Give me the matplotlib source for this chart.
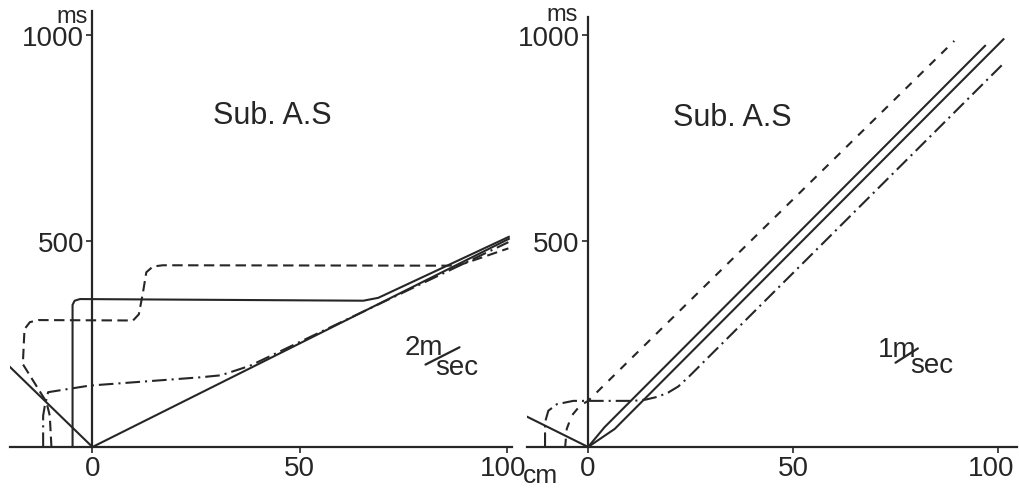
import matplotlib
matplotlib.use("Agg")
import matplotlib.pyplot as plt
from matplotlib.transforms import ScaledTranslation

plt.rcParams['font.family'] = ['Liberation Sans', 'DejaVu Sans']

INK = '#262626'

# ---- left panel (2 m/sec) ----
L_back_x = [-20.4, 0]
L_back_y = [199, 0]
L_main_x = [0, 100.5]
L_main_y = [0, 505]
L_plat_x = [-4.8, -4.8, -4.3, -3.0, 65.4, 69.0, 100.5]
L_plat_y = [0, 345, 355, 359, 355, 362, 510]
L_dash_x = [-9.9, -10.3, -11.1, -16.8, -16.4, -15.1, -13.0, 9.8, 11.2, 12.2, 13.0, 14.6, 17.0, 85.5, 88.5, 100.4]
L_dash_y = [0, 76, 109, 201, 286, 303, 308, 307, 322, 375, 424, 438, 441, 440, 441, 482]
L_dd_x = [-11.9, -11.9, -11.5, -10.7, -0.7, 25.9, 31.0, 38.0, 100.4]
L_dd_y = [0, 76, 100, 133, 149, 169, 174, 197, 497]

# ---- right panel (1 m/sec) ----
R_back_x = [-17.0, 0]
R_back_y = [84, 0]
R_a_x = [0, 4.0, 96.8]
R_a_y = [0, 48, 974]
R_b_x = [0, 6.5, 101.3]
R_b_y = [0, 44, 990]
R_dash_x = [-5.6, -5.2, -4.0, -2.0, 0, 89.3]
R_dash_y = [0, 44, 76, 100, 112, 986]
R_dd_x = [-10.5, -10.5, -9.7, -7.6, -3.6, 11.0, 14.0, 17.0, 19.5, 22.0, 24.5, 101.3]
R_dd_y = [0, 60, 88, 104, 112, 112, 115, 122, 132, 147, 170, 931]

xticks = [0, 50, 100]
yticks = [500, 1000]

DASH = (0, (5, 2.6))
DASHDOT = (0, (7, 2.4, 1, 2.4))


def setup(ax, xlim, ylim, shift_last):
    ax.set_xlim(*xlim)
    ax.set_ylim(*ylim)
    for s in ['top', 'right']:
        ax.spines[s].set_visible(False)
    ax.spines['left'].set_position(('data', 0))
    ax.spines['bottom'].set_position(('data', 0))
    for s in ['left', 'bottom']:
        ax.spines[s].set_linewidth(1.6)
        ax.spines[s].set_color(INK)
    ax.set_xticks(xticks)
    ax.set_xticklabels([str(t) for t in xticks])
    ax.set_yticks(yticks)
    ax.set_yticklabels([str(t) for t in yticks])
    ax.tick_params(axis='both', direction='out', length=4.5, width=1.2,
                   color=INK, labelcolor=INK, labelsize=20, pad=1.5)
    ax.patch.set_alpha(0)
    lab = ax.get_xticklabels()[-1]
    lab.set_transform(lab.get_transform() + ScaledTranslation(-shift_last / 100, 0, fig.dpi_scale_trans))


def slash_unit(ax, num, x, y, x2, y2, sx, sy):
    ax.text(x, y, num + 'm', fontsize=20, color=INK, va='baseline', ha='left')
    ax.annotate('', xy=(x2[1], y2[1]), xytext=(x2[0], y2[0]),
                arrowprops=dict(arrowstyle='-', color=INK, lw=1.6))
    ax.text(sx, sy, 'sec', fontsize=20, color=INK, va='baseline', ha='left')


fig = plt.figure(figsize=(10.19, 4.89), dpi=100)
ax1 = fig.add_axes([10 / 1019, 41 / 489, 501.7 / 1019, 436 / 489])
ax2 = fig.add_axes([527 / 1019, 41 / 489, 490 / 1019, 430 / 489])

setup(ax1, (-19.9, 101.2), (0, 1058), 4)
setup(ax2, (-14.9, 104.6), (0, 1044), 7)

lw = 1.5
ax1.plot(L_back_x, L_back_y, color=INK, lw=lw)
ax1.plot(L_main_x, L_main_y, color=INK, lw=lw)
ax1.plot(L_plat_x, L_plat_y, color=INK, lw=lw)
ax1.plot(L_dash_x, L_dash_y, color=INK, lw=lw, ls=DASH)
ax1.plot(L_dd_x, L_dd_y, color=INK, lw=lw, ls=DASHDOT)

ax2.plot(R_back_x, R_back_y, color=INK, lw=lw)
ax2.plot(R_a_x, R_a_y, color=INK, lw=lw)
ax2.plot(R_b_x, R_b_y, color=INK, lw=lw)
ax2.plot(R_dash_x, R_dash_y, color=INK, lw=lw, ls=(0, (4, 4)))
ax2.plot(R_dd_x, R_dd_y, color=INK, lw=lw, ls=DASHDOT)

# titles
ax1.text(43.3, 806, 'Sub. A.S', fontsize=22, color=INK, ha='center', va='center')
ax2.text(35.1, 801, 'Sub. A.S', fontsize=22, color=INK, ha='center', va='center')

# axis units
ax1.text(-1.1, 1032, 'ms', fontsize=17, color=INK, ha='right', va='baseline', clip_on=False)
ax2.text(-2.4, 1036, 'ms', fontsize=17, color=INK, ha='right', va='baseline', clip_on=False)
ax1.text(104.0, -85, 'cm', fontsize=19, color=INK, ha='left', va='baseline', clip_on=False)

# speed annotations
slash_unit(ax1, '2', 75.4, 226, (79.8, 89.2), (197, 245), 82.7, 177)
slash_unit(ax2, '1', 70.7, 221, (74.4, 81.0), (201, 243), 78.5, 182)

fig.savefig('out.png', dpi=100)
